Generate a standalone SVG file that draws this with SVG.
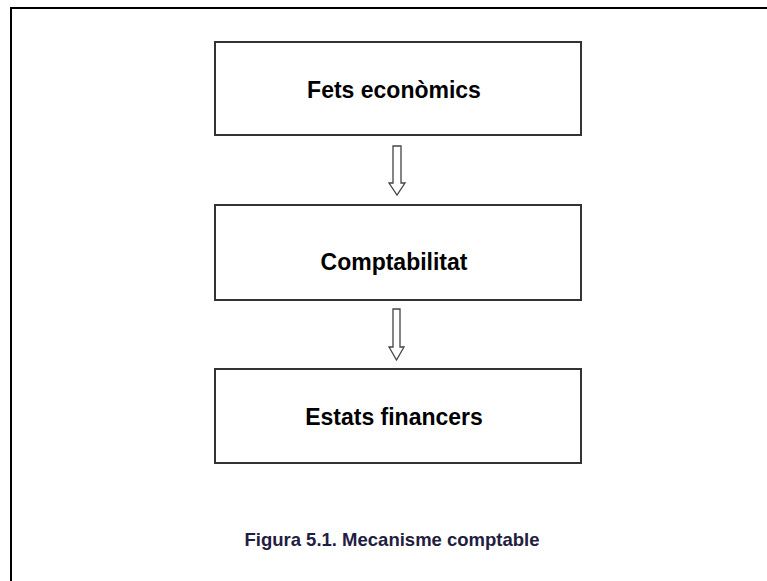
<svg xmlns="http://www.w3.org/2000/svg" width="767" height="581" viewBox="0 0 767 581">
  <defs>
    <style>
      .frame { fill: none; stroke: #000; stroke-width: 2; }
      .box { fill: #fff; stroke: #333; stroke-width: 2; }
      .label { font-family: "Liberation Sans", Arial, sans-serif; font-weight: bold; font-size: 23px; fill: #000; text-anchor: middle; }
      .caption { font-family: "Liberation Sans", Arial, sans-serif; font-weight: bold; font-size: 18.5px; fill: #1f2040; text-anchor: middle; }
      .arrow { fill: #fff; stroke: #444; stroke-width: 1.3; stroke-linejoin: miter; }
    </style>
  </defs>
  <rect width="767" height="581" fill="#fff"/>
  <!-- outer frame, open to the right and bottom -->
  <path class="frame" d="M11 581 V8 H767"/>

  <g id="node-fets">
    <rect class="box" x="215" y="42" width="366" height="93"/>
    <text class="label" x="394" y="98">Fets econòmics</text>
  </g>
  <g id="node-comptabilitat">
    <rect class="box" x="215" y="205" width="366" height="95"/>
    <text class="label" x="394" y="270">Comptabilitat</text>
  </g>
  <g id="node-estats">
    <rect class="box" x="215" y="369" width="366" height="94"/>
    <text class="label" x="394" y="425">Estats financers</text>
  </g>

  <g id="connectors">
    <path class="arrow" d="M393 146 H401 V183 H405 L397 195 L389 183 H393 Z"/>
    <path class="arrow" d="M393 309 H400 V347 H404 L396.5 360 L389 347 H393 Z"/>
  </g>

  <text class="caption" x="392" y="546">Figura 5.1. Mecanisme comptable</text>
</svg>
